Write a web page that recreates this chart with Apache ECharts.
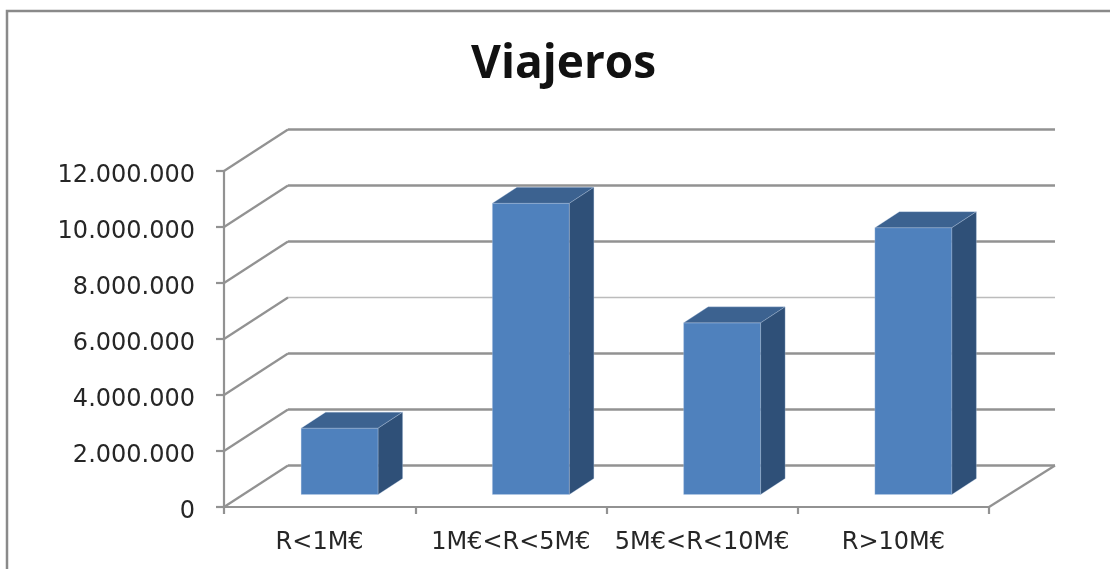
<!DOCTYPE html>
<html>
<head>
<meta charset="utf-8">
<style>html,body{margin:0;padding:0;background:#fff}#c{width:1110px;height:569px}</style>
<script src="https://cdn.jsdelivr.net/npm/echarts@6/dist/echarts.min.js"></script>
</head>
<body>
<div id="c"></div>
<script>
const categories = ['R<1M€', '1M€<R<5M€', '5M€<R<10M€', 'R>10M€'];
const viajeros = [2370000, 10400000, 6130000, 9530000];
const gridTicks = [0, 2000000, 4000000, 6000000, 8000000, 10000000, 12000000];
const titleText = 'Viajeros';

const wallDx = 64, wallDy = -41.5, barDx = 24.5, barDy = -16, barShiftX = 20, barShiftY = -12.5, barW = 77;
const lineCol = '#929292';

function fmt(v){ return String(v).replace(/\B(?=(\d{3})+(?!\d))/g, '.'); }

function renderWall(params, api){
  const v = api.value(0);
  const cs = params.coordSys;
  const y = api.coord([0, v])[1];
  const x0 = cs.x, x1 = cs.x + cs.width;
  const light = v === 6000000;
  const style = {fill:'none', stroke: lineCol, lineWidth: 2.2, lineJoin:'round'};
  const backStyle = {fill:'none', stroke: light ? '#bcbcbc' : lineCol, lineWidth: light ? 1.6 : 2.4};
  const children = [
    {type:'line', shape:{x1:x0,y1:y,x2:x0+wallDx,y2:y+wallDy}, style},
    {type:'line', shape:{x1:x0+wallDx,y1:y+wallDy,x2:x1+wallDx+2,y2:y+wallDy}, style:backStyle}
  ];
  if (v === 0) children.push({type:'line', shape:{x1:x1,y1:y,x2:x1+wallDx+2,y2:y+wallDy}, style});
  return {type:'group', children};
}

function renderBar(params, api){
  const p = api.coord([api.value(0), api.value(1)]);
  const b = api.coord([api.value(0), 0]);
  const l = p[0] + barShiftX - barW/2, r = l + barW;
  const top = p[1] + barShiftY, bot = b[1] + barShiftY;
  const edge = {stroke:'rgba(190,210,235,0.3)', lineWidth:1};
  return {type:'group', children:[
    {type:'polygon', shape:{points:[[l,top],[r,top],[r,bot],[l,bot]]}, style:Object.assign({fill:'#4f81bd'},edge)},
    {type:'polygon', shape:{points:[[l,top],[l+barDx,top+barDy],[r+barDx,top+barDy],[r,top]]}, style:Object.assign({fill:'#3c6290'},edge)},
    {type:'polygon', shape:{points:[[r,top],[r+barDx,top+barDy],[r+barDx,bot+barDy],[r,bot]]}, style:Object.assign({fill:'#2f5078'},edge)}
  ]};
}

const chart = echarts.init(document.getElementById('c'), null, {renderer:'canvas'});
chart.setOption({
  animation:false,
  backgroundColor:'#fff',
  title:{text:titleText, left:466, top:37, textStyle:{fontFamily:'Open Sans', fontWeight:'bold', fontSize:46, color:'#111'}},
  graphic:[{type:'polyline', silent:true, shape:{points:[[7,580],[7,11],[1120,11]]}, style:{fill:'none', stroke:'#8a8a8a', lineWidth:2.5}}],
  grid:{left:224, top:171, width:765, height:336, containLabel:false},
  xAxis:{type:'category', data:categories, boundaryGap:true,
    axisLine:{show:true, lineStyle:{color:lineCol, width:2.2}},
    axisTick:{show:true, alignWithLabel:false, length:7, lineStyle:{color:lineCol, width:2.2}},
    axisLabel:{interval:0, margin:24, fontFamily:'DejaVu Sans', fontSize:24, color:'#262626'}},
  yAxis:{type:'value', min:0, max:12000000, interval:2000000,
    splitLine:{show:false},
    axisLine:{show:true, lineStyle:{color:lineCol, width:2.2}},
    axisTick:{show:true, length:8, lineStyle:{color:lineCol, width:2.2}},
    axisLabel:{margin:29, verticalAlign:'top', lineHeight:10, formatter:fmt, fontFamily:'DejaVu Sans', fontSize:24, color:'#262626'}},
  series:[
    {type:'custom', name:'grid', coordinateSystem:'cartesian2d', silent:true, clip:false, z:1,
      renderItem:renderWall, encode:{y:0}, data:gridTicks.map(v=>[v])},
    {type:'custom', name:'Viajeros', coordinateSystem:'cartesian2d', clip:false, z:3,
      renderItem:renderBar, encode:{x:0,y:1}, data:viajeros.map((v,i)=>[i,v])}
  ]
});
</script>
</body>
</html>
